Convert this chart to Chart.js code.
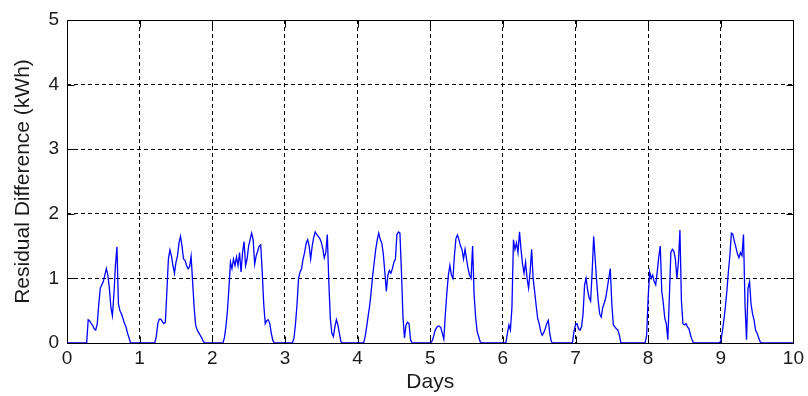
<!DOCTYPE html>
<html>
<head>
<meta charset="utf-8">
<script src="https://cdn.jsdelivr.net/npm/chart.js@4.4.1/dist/chart.umd.min.js"></script>
<style>
  html, body { margin: 0; padding: 0; background: #fff; }
</style>
</head>
<body>
<canvas id="residual" width="808" height="396"></canvas>
<script>
// half-hour samples, 48 per day
const perDay = 48
const xTicks = [0, 1, 2, 3, 4, 5, 6, 7, 8, 9, 10]
const yTicks = [0, 1, 2, 3, 4, 5]

const day0 = [0,0,0,0,0,0,0,0,0,0,0,0,0,0, .36,.34,.30,.27,.22,.20,.30,.60,.85,.90,.95,1.05,1.15,1.05,.85,.55,.42,.75,1.20,1.49,.60,.50,.45,.38,.30,.25,.15,.08, 0,0,0,0,0,0]
const day1 = [0,0,0,0,0,0,0,0,0,0,0, .10,.30,.37,.37,.33,.30,.32,.80,1.30,1.44,1.35,1.20,1.08,1.25,1.35,1.55,1.65,1.50,1.30,1.28,1.20,1.15,1.18,1.34,.95,.55,.28,.20,.16,.12,.08,.03, 0,0,0,0,0]
const day2 = [0,0,0,0,0,0,0,0, .08,.25,.50,.85,1.25,1.15,1.30,1.20,1.33,1.20,1.40,1.10,1.40,1.57,1.20,1.30,1.50,1.60,1.70,1.60,1.22,1.35,1.42,1.50,1.52,1.10,.60,.30,.35,.36,.30,.15,.04, 0,0,0,0,0,0,0]
const day3 = [0,0,0,0,0,0, .08,.30,.60,1.00,1.10,1.15,1.30,1.40,1.54,1.60,1.50,1.30,1.50,1.63,1.72,1.68,1.65,1.62,1.56,1.46,1.32,1.40,1.68,.95,.38,.15,.10,.25,.36,.28,.15,.02, 0,0,0,0,0,0,0,0,0,0]
const day4 = [0,0,0,0,0, .10,.25,.42,.58,.80,1.05,1.25,1.45,1.60,1.70,1.60,1.55,1.38,1.10,.80,1.05,1.12,1.08,1.15,1.25,1.30,1.68,1.72,1.70,1.10,.40,.08,.28,.32,.30,.05, 0,0,0,0,0,0,0,0,0,0,0,0]
const day5 = [0,.02,.08,.18,.23,.26,.26,.24,.15,.06,.45,.78,1.05,1.20,1.05,1.00,1.35,1.62,1.67,1.60,1.50,1.45,1.30,1.45,1.30,1.15,1.05,1.00,1.50,.75,.40,.18,.10,.02, 0,0,0,0,0,0,0,0,0,0,0,0,0,0]
const day6 = [0,0,0, .15,.28,.20,.55,1.60,1.45,1.55,1.40,1.72,1.45,1.22,1.08,1.25,1.00,.85,1.10,1.45,1.00,.80,.58,.38,.30,.18,.12,.16,.22,.30,.35,.15,.02, 0,0,0,0,0,0,0,0,0,0,0,0,0,0, .18]
const day7 = [.28,.30,.22,.20,.25,.45,.90,1.00,.82,.70,.65,1.10,1.65,1.30,.95,.65,.45,.40,.55,.62,.70,.85,1.00,1.15,.60,.28,.25,.22,.20,.12, 0,0,0,0,0,0,0,0,0,0,0,0,0,0,0,0,0, .12]
const day8 = [.70,1.10,1.00,1.05,.95,.90,1.10,1.33,1.50,.80,.62,.38,.30,.05,.70,1.40,1.45,1.42,1.30,1.00,1.25,1.75,.65,.30,.28,.30,.25,.22,.12,.05, 0,0,0,0,0,0,0,0,0,0,0,0,0,0,0,0,0,0]
const day9 = [.03,.17,.35,.55,.80,1.10,1.35,1.70,1.68,1.57,1.48,1.38,1.32,1.40,1.35,1.68,.60,.05,.85,.95,.60,.45,.35,.20,.15,.08,.02, 0,0,0,0,0,0,0,0,0,0,0,0,0,0,0,0,0,0,0,0,0]

const days = [day0, day1, day2, day3, day4, day5, day6, day7, day8, day9]

const points = []
days.forEach((values, d) => {
    values.forEach((v, i) => points.push({ x: d + i / perDay, y: v }))
})
points.push({ x: xTicks[xTicks.length - 1], y: 0 })

const fontFamily = "'Liberation Sans', Arial, sans-serif"
const textColor = "#1a1a1a"

// solid box round the plot, with short inward ticks on all four sides
const frame = {
    id: "frame",
    beforeDatasetsDraw(chart) {
        const { ctx, chartArea: a, scales } = chart
        const L = Math.round(a.left) + 0.5
        const R = Math.round(a.right) + 0.5
        const T = Math.round(a.top) + 0.5
        const B = Math.round(a.bottom) + 0.5
        const len = 7
        ctx.save()
        ctx.strokeStyle = "#000"
        ctx.lineWidth = 1
        ctx.beginPath()
        xTicks.slice(1, -1).forEach(v => {
            const px = Math.round(scales.x.getPixelForValue(v)) + 0.5
            ctx.moveTo(px, B); ctx.lineTo(px, B - len)
            ctx.moveTo(px, T); ctx.lineTo(px, T + len)
        })
        yTicks.slice(1, -1).forEach(v => {
            const py = Math.round(scales.y.getPixelForValue(v)) + 0.5
            ctx.moveTo(L, py); ctx.lineTo(L + len, py)
            ctx.moveTo(R, py); ctx.lineTo(R - len, py)
        })
        ctx.stroke()
        ctx.strokeRect(L, T, R - L, B - T)
        ctx.restore()
    }
}

const gridColor = ends => c => (c.tick && ends.includes(c.tick.value)) ? "rgba(0,0,0,0)" : "#000"

new Chart(document.getElementById("residual"), {
    type: "line",
    data: {
        datasets: [{
            data: points,
            borderColor: "#0000ff",
            borderWidth: 1.3,
            pointRadius: 0,
            tension: 0,
            fill: false
        }]
    },
    options: {
        responsive: false,
        animation: false,
        devicePixelRatio: 1,
        parsing: false,
        layout: { padding: { top: 20, right: 12, left: 0, bottom: 0 } },
        plugins: {
            legend: { display: false },
            tooltip: { enabled: false }
        },
        scales: {
            x: {
                type: "linear",
                min: 0,
                max: 10,
                afterFit: s => { s.height = 53 },
                afterBuildTicks: s => { s.ticks = xTicks.map(v => ({ value: v })) },
                ticks: {
                    color: textColor,
                    font: { family: fontFamily, size: 19 },
                    padding: 4,
                    maxRotation: 0,
                    autoSkip: false
                },
                grid: {
                    color: gridColor([0, 10]),
                    lineWidth: 1,
                    drawTicks: false,
                    borderDash: [4, 3]
                },
                border: { display: false, dash: [4, 3] },
                title: {
                    display: true,
                    text: "Days",
                    color: textColor,
                    font: { family: fontFamily, size: 21 },
                    padding: { top: 0, bottom: 1 }
                }
            },
            y: {
                min: 0,
                max: 5,
                afterFit: s => { s.width = 67 },
                afterBuildTicks: s => { s.ticks = yTicks.map(v => ({ value: v })) },
                ticks: {
                    color: textColor,
                    font: { family: fontFamily, size: 19 },
                    padding: 8
                },
                grid: {
                    color: gridColor([0, 5]),
                    lineWidth: 1,
                    drawTicks: false,
                    borderDash: [4, 3]
                },
                border: { display: false, dash: [4, 3] },
                title: {
                    display: true,
                    text: "Residual Difference (kWh)",
                    color: textColor,
                    font: { family: fontFamily, size: 21 },
                    padding: { top: 11, bottom: 0 }
                }
            }
        }
    },
    plugins: [frame]
})
</script>
</body>
</html>
